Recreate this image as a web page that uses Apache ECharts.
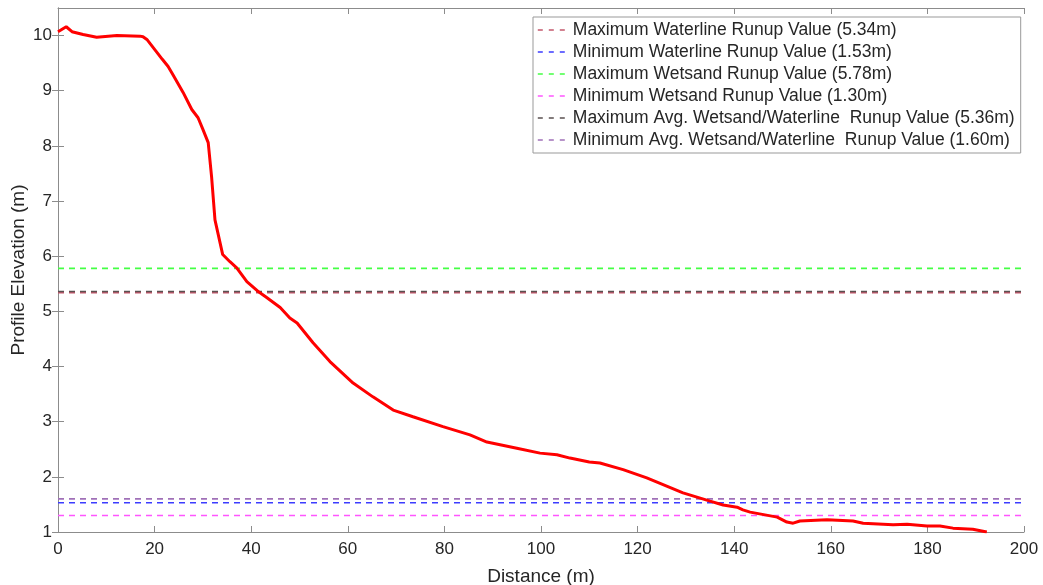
<!DOCTYPE html>
<html><head><meta charset="utf-8">
<script src="https://cdn.jsdelivr.net/npm/echarts@6/dist/echarts.min.js"></script>
<style>html,body{margin:0;padding:0;background:#fff}#c{width:1043px;height:585px}</style>
</head><body><div id="c"></div>
<script>
// Profile (distance m, elevation m)
const distance = [0,1.7,2.9,5.2,8,12.2,17,17.6,18.4,20,21.6,22.8,23.8,25.9,27.7,29,30,31.1,31.8,32.5,34.1,35.6,37,39.1,41.6,43.2,46,48,49.5,52.8,56.3,61.1,65.2,69.4,73.5,79.7,85.3,88.8,95,99.8,103.3,106,110,112.2,117,121.9,129.4,135,137.7,140.6,141.8,143.3,148.9,150.9,152.2,153.6,159.2,164.6,166.7,172.9,175.8,179.9,182.6,185.3,189.4,192.3];
const elevation = [10.07,10.16,10.07,10.02,9.97,10.0,9.99,9.98,9.93,9.75,9.57,9.44,9.29,8.97,8.66,8.51,8.3,8.06,7.44,6.66,6.03,5.9,5.79,5.54,5.35,5.25,5.07,4.88,4.79,4.43,4.09,3.70,3.45,3.21,3.09,2.91,2.76,2.63,2.52,2.43,2.40,2.34,2.27,2.25,2.13,1.98,1.71,1.56,1.49,1.45,1.40,1.36,1.27,1.18,1.16,1.20,1.22,1.20,1.16,1.13,1.14,1.11,1.11,1.07,1.05,1.00];
const refNames = ["Maximum Waterline Runup Value (5.34m)","Minimum Waterline Runup Value (1.53m)","Maximum Wetsand Runup Value (5.78m)","Minimum Wetsand Runup Value (1.30m)","Maximum Avg. Wetsand/Waterline  Runup Value (5.36m)","Minimum Avg. Wetsand/Waterline  Runup Value (1.60m)"];
const refValues = [5.34,1.53,5.78,1.30,5.36,1.60];
const refColors = ["#c4586c","#3c3cff","#44ff44","#ff55ff","#5a5050","#a070b8"];
const xRange = [0,200];
const yRange = [1,10.5];

const font = "'Liberation Sans', Arial, sans-serif";
const txt = "#262626";
const ax = "#8c8c8c";
const tick = {show:true,inside:true,length:6,lineStyle:{color:ax}};
const chart = echarts.init(document.getElementById('c'));
const series = refNames.map((n,i)=>({
  name:n, type:'line', data:[[xRange[0],refValues[i]],[xRange[1],refValues[i]]],
  showSymbol:false, symbol:'none', silent:true, animation:false,
  lineStyle:{color:refColors[i],width:1.6,type:[6,5]}, itemStyle:{color:refColors[i]}
}));
series.push({
  name:'profile', type:'line', data:distance.map((d,i)=>[d,elevation[i]]),
  showSymbol:false, symbol:'none', animation:false, z:5,
  lineStyle:{color:'#ff0000',width:3}, itemStyle:{color:'#ff0000'}
});
chart.setOption({
  animation:false,
  textStyle:{fontFamily:font},
  grid:{left:58,right:19,top:8,bottom:53,show:false,containLabel:false,outerBoundsMode:'none'},
  legend:{
    data:refNames, orient:'vertical', left:533, top:17,
    itemWidth:32, itemHeight:17, itemGap:4, padding:[4,6,4,4],
    backgroundColor:'#fff', borderColor:'#999', borderWidth:1, borderRadius:0,
    textStyle:{fontSize:17.5,lineHeight:17,color:txt,fontFamily:font,padding:[0,0,0,-2]},
    itemStyle:{opacity:0}, lineStyle:{width:1.6,type:[5,6]},
    selectedMode:false
  },
  xAxis:[{
    type:'value', min:xRange[0], max:xRange[1], interval:20,
    name:'Distance (m)', nameLocation:'middle', nameGap:35,
    nameTextStyle:{fontSize:19,color:txt,fontFamily:font},
    axisLine:{show:true,lineStyle:{color:ax}},
    axisTick:tick,
    axisLabel:{fontSize:17,color:txt,margin:9,fontFamily:font},
    splitLine:{show:false}
  },{
    type:'value', min:xRange[0], max:xRange[1], interval:20, position:'top',
    axisLine:{show:true,lineStyle:{color:ax}},
    axisTick:tick,
    axisLabel:{show:false}, splitLine:{show:false}
  }],
  yAxis:[{
    type:'value', min:yRange[0], max:yRange[1], interval:1,
    name:'Profile Elevation (m)', nameLocation:'middle', nameGap:30, nameMoveOverlap:false,
    nameTextStyle:{fontSize:19,color:txt,fontFamily:font},
    axisLine:{show:true,lineStyle:{color:ax}},
    axisTick:{show:true,inside:true,length:6,lineStyle:{color:ax},customValues:[1,2,3,4,5,6,7,8,9,10]},
    axisLabel:{fontSize:17,color:txt,margin:6,fontFamily:font,showMaxLabel:false},
    splitLine:{show:false}
  },{
    type:'value', min:yRange[0], max:yRange[1], interval:1, position:'right',
    axisLine:{show:true,lineStyle:{color:ax}},
    axisTick:{show:true,inside:true,length:6,lineStyle:{color:ax},customValues:[1,2,3,4,5,6,7,8,9,10]},
    axisLabel:{show:false}, splitLine:{show:false}
  }],
  series:series
});
</script></body></html>
